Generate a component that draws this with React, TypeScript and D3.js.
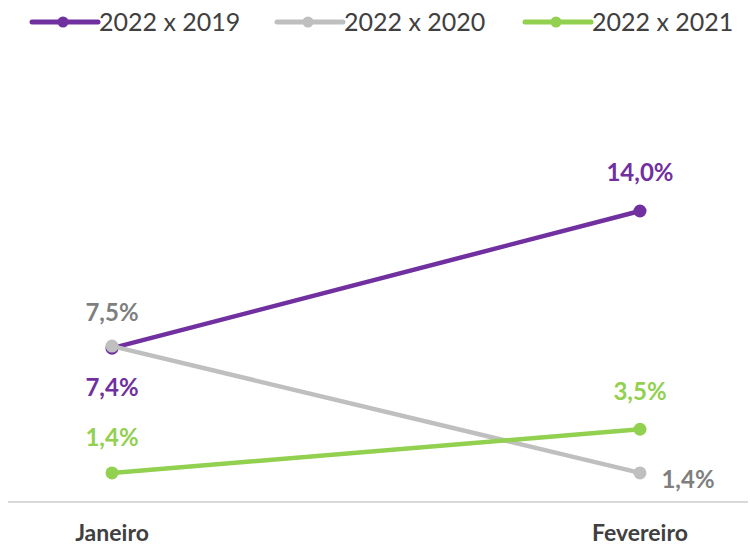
import React from 'react';
import * as d3 from 'd3';

const categories = ['Janeiro', 'Fevereiro'];
const seriesNames = ['2022 x 2019', '2022 x 2020', '2022 x 2021'];
const values2019 = [7.4, 14.0];
const values2020 = [7.5, 1.4];
const values2021 = [1.4, 3.5];

const width = 750;
const height = 549;

const series = [
  { name: seriesNames[0], values: values2019, color: '#7030a0', label: '#7030a0' },
  { name: seriesNames[1], values: values2020, color: '#bfbfbf', label: '#7f7f7f' },
  { name: seriesNames[2], values: values2021, color: '#92d050', label: '#92d050' },
];

// label offsets per series / point (dx, dy)
const labelPos: Array<Array<[number, number]>> = [
  [[0, 39], [0, -38]],
  [[0, -33], [48, 7]],
  [[0, -35], [0, -38]],
];

const fmt = (v: number) => v.toFixed(1).replace('.', ',') + '%';

const App: React.FC = () => {
  const x = d3.scalePoint<string>().domain(categories).range([8, 744]).padding(0.197);
  const y = d3.scaleLinear().domain([0, 16]).range([502, 169.4]);

  const line = d3
    .line<number>()
    .x((_, i) => x(categories[i]) as number)
    .y(d => y(d));

  const font = 'Lato, "Open Sans", sans-serif';
  const legendX = [32, 277, 525];

  return (
    <svg width={width} height={height} style={{ position: 'absolute', left: 0, top: 0 }}>
      <rect width={width} height={height} fill="#fff" />
      {/* legend */}
      {series.map((s, i) => (
        <g key={s.name} transform={`translate(${legendX[i]},22)`}>
          <line x1={0} x2={66} y1={0} y2={0} stroke={s.color} strokeWidth={5} strokeLinecap="round" />
          <circle cx={31} cy={0} r={5.5} fill={s.color} />
          <text x={67} y={0} dy="0.35em" fontFamily={font} fontSize={25} fill="#404040">
            {s.name}
          </text>
        </g>
      ))}
      {/* axis line */}
      <line x1={8} x2={748} y1={y(0)} y2={y(0)} stroke="#d9d9d9" strokeWidth={2} />
      {categories.map(c => (
        <text key={c} x={x(c)} y={541} textAnchor="middle" fontFamily={font} fontWeight={700} fontSize={23} fill="#404040">
          {c}
        </text>
      ))}
      {/* lines */}
      {series.map(s => (
        <g key={s.name}>
          <path d={line(s.values) || ''} fill="none" stroke={s.color} strokeWidth={4.5} strokeLinecap="round" />
          {s.values.map((v, j) => (
            <circle key={j} cx={x(categories[j])} cy={y(v)} r={6.5} fill={s.color} />
          ))}
        </g>
      ))}
      {/* data labels */}
      {series.map((s, i) =>
        s.values.map((v, j) => {
          const [dx, dy] = labelPos[i][j];
          return (
            <text
              key={s.name + j}
              x={(x(categories[j]) as number) + dx}
              y={y(v) + dy}
              dy="0.35em"
              textAnchor="middle"
              fontFamily={font}
              fontWeight={700}
              fontSize={24}
              fill={s.label}
            >
              {fmt(v)}
            </text>
          );
        })
      )}
    </svg>
  );
};

export default App;
